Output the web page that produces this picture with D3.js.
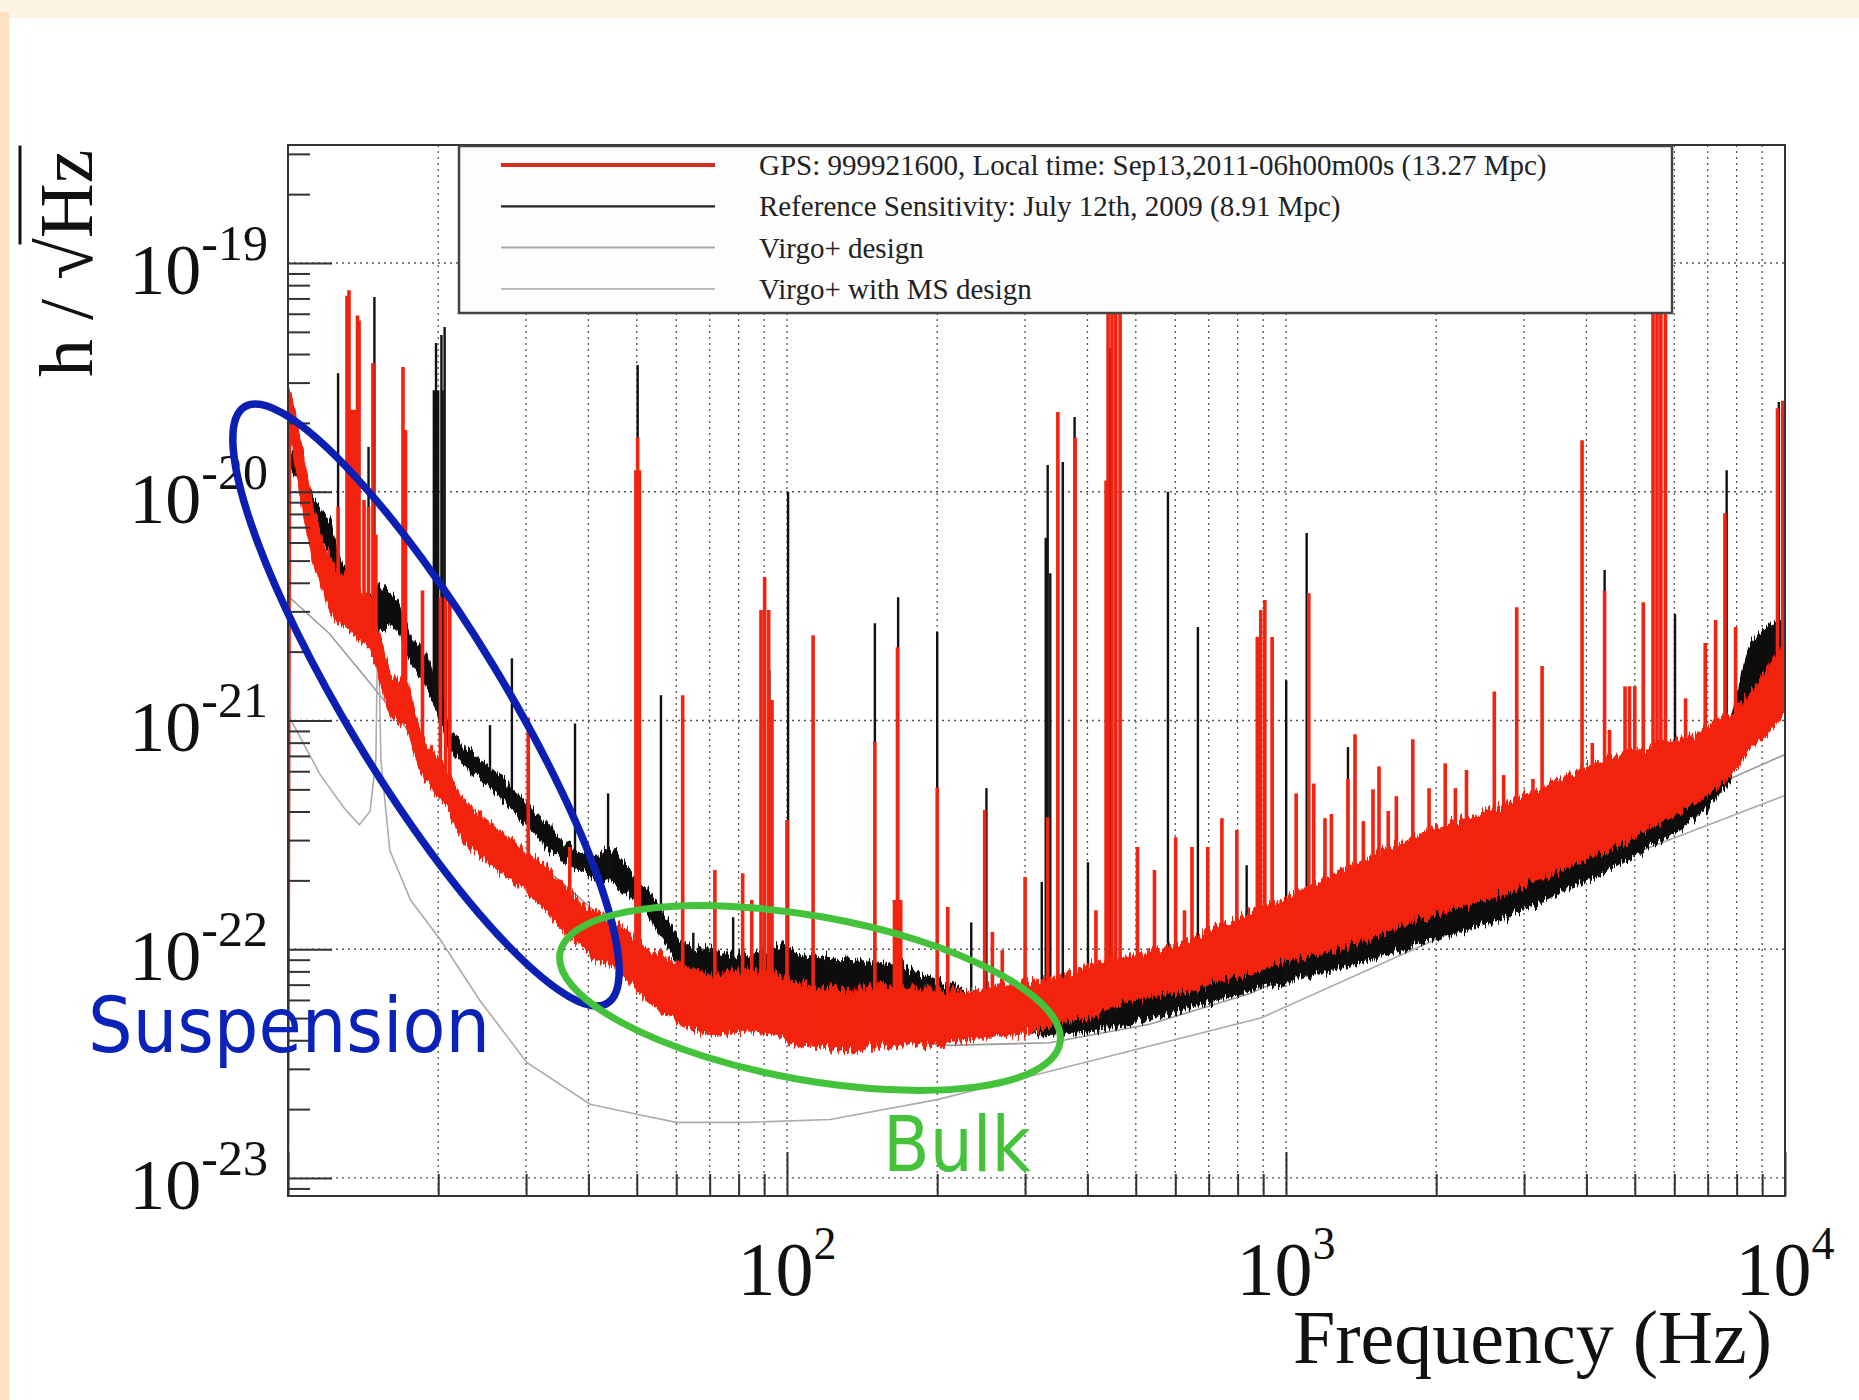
<!DOCTYPE html>
<html>
<head>
<meta charset="utf-8">
<script src="https://cdn.jsdelivr.net/npm/d3@7"></script>
<style>
  body { margin: 0; background: #fff; }
  svg { display: block; }
</style>
</head>
<body>
<svg id="chart" width="1859" height="1400"></svg>
<script>
// ---- data (frequency in Hz, strain in 1/sqrt(Hz)) ----

// Virgo+ design (upper grey curve)
const virgoFreq = [10, 12.1, 14.6, 18.4, 22.8, 28.2, 35, 42.2, 53, 67, 88, 134, 211, 336, 533, 847, 1690, 3380, 5360, 10000]
const virgoH = [3.5e-21, 2.4e-21, 1.46e-21, 7.8e-22, 4.3e-22, 2.9e-22, 2.0e-22, 1.4e-22, 9.0e-23, 6.6e-23, 5.2e-23, 4.2e-23, 3.8e-23, 3.9e-23, 4.7e-23, 6.4e-23, 1.26e-22, 2.45e-22, 3.9e-22, 7.1e-22]

// Virgo+ with MS design (lower grey curve)
const virgoMsFreq = [10, 11.6, 13.0, 13.9, 14.6, 15.0, 15.15, 15.35, 16.0, 17.6, 20.2, 24.2, 30.1, 40.3, 50, 60, 83, 122, 200, 352, 890, 1880, 4256, 10000]
const virgoMsH = [1.06e-21, 5.8e-22, 4.1e-22, 3.5e-22, 4.0e-22, 6.7e-22, 3.4e-21, 6.7e-22, 2.7e-22, 1.64e-22, 1.1e-22, 6.0e-23, 3.2e-23, 2.1e-23, 1.9e-23, 1.75e-23, 1.75e-23, 1.8e-23, 2.2e-23, 3.0e-23, 5.0e-23, 1.04e-22, 2.3e-22, 4.7e-22]

// Reference sensitivity July 2009 (black): noise band floor / top
const refFreq = [10.2, 10.6, 11.2, 11.75, 12.1, 12.7, 13.3, 14.1, 15.3, 16.5, 17.5, 18.8, 19.9, 21.1, 22.4, 24.2, 26.2, 28.2, 30.6, 33.0, 35.5, 38.5, 41.5, 44.1, 48.4, 52.3, 57.5, 61.1, 66.1, 71.2, 83.3, 96.9, 106, 134, 169, 207, 267, 325, 424, 556, 847, 1000, 1343, 1935, 2685, 4400, 6130, 6755, 7757, 8508, 9332, 10000]
const refLow = [1.24e-20, 1.07e-20, 7.9e-21, 6.46e-21, 5.56e-21, 4.1e-21, 3.36e-21, 2.61e-21, 2.49e-21, 2.61e-21, 1.84e-21, 1.5e-21, 1.11e-21, 7.6e-22, 6.58e-22, 5.6e-22, 4.86e-22, 4.06e-22, 3.39e-22, 2.85e-22, 2.45e-22, 2.22e-22, 2.05e-22, 2.05e-22, 1.72e-22, 1.45e-22, 1.04e-22, 8.5e-23, 7.95e-23, 7.7e-23, 7.5e-23, 7.7e-23, 6.62e-23, 6.3e-23, 6.3e-23, 5.7e-23, 4.9e-23, 4.21e-23, 4.43e-23, 5.15e-23, 6.62e-23, 7.2e-23, 8.5e-23, 1.1e-22, 1.34e-22, 2.22e-22, 3.32e-22, 3.86e-22, 5.49e-22, 1.23e-21, 1.5e-21, 1.5e-21]
const refHigh = [1.45e-20, 1.24e-20, 9.4e-21, 7.9e-21, 7.5e-21, 5.0e-21, 4.1e-21, 3.36e-21, 3.9e-21, 3.36e-21, 2.36e-21, 1.93e-21, 1.5e-21, 9.1e-22, 7.8e-22, 6.71e-22, 5.77e-22, 4.96e-22, 4.14e-22, 3.49e-22, 2.94e-22, 2.66e-22, 2.5e-22, 2.75e-22, 2.22e-22, 1.85e-22, 1.34e-22, 1.06e-22, 9.9e-23, 9.7e-23, 9.4e-23, 1.04e-22, 9.4e-23, 8.95e-23, 8.5e-23, 6.96e-23, 6.0e-23, 5.42e-23, 6.0e-23, 6.96e-23, 9.4e-23, 1.04e-22, 1.27e-22, 1.56e-22, 1.91e-22, 3.0e-22, 4.49e-22, 5.49e-22, 1.0e-21, 2.14e-21, 2.61e-21, 2.75e-21]

// Reference sensitivity: spectral lines
const refLineFreq = [12.6, 14.5, 14.9, 19.6, 19.8, 20.0, 20.3, 20.4, 20.6, 25.4, 28.1, 37.6, 43.8, 50.2, 55.9, 64.9, 78, 92.2, 100.5, 150, 167, 200, 234, 251, 324, 330, 333, 337, 357, 377, 401, 444, 580, 666, 834, 1001, 1100, 1331, 4350, 6020, 7640, 9720, 9930]
const refLinePeak = [3.3e-20, 1.57e-20, 7.1e-20, 2.78e-20, 4.47e-20, 2.78e-20, 4.84e-20, 2.78e-20, 5.25e-20, 9.55e-22, 1.87e-21, 9.7e-22, 4.8e-22, 3.58e-20, 1.29e-21, 1.18e-22, 1.38e-22, 1.66e-21, 1.0e-20, 2.66e-21, 3.46e-21, 2.44e-21, 1.31e-22, 5.06e-22, 1.97e-22, 6.3e-21, 1.31e-20, 4.4e-21, 1.35e-20, 2.12e-20, 2.4e-22, 4.25e-20, 1.0e-20, 2.56e-21, 2.33e-22, 1.5e-21, 6.6e-21, 7.65e-22, 4.55e-21, 2.92e-21, 1.24e-20, 2.47e-20, 6.15e-21]

// GPS 999921600 (red): noise band floor / top
const gpsFreq = [10.0, 10.1, 10.6, 11.2, 11.75, 12.4, 13.0, 14.06, 14.6, 15.1, 16.0, 17.3, 18.4, 19.9, 20.8, 22.4, 24.2, 26.2, 28.2, 30.6, 33.0, 35.5, 38.5, 41.5, 44.9, 48.4, 52.3, 61.1, 71.2, 83.3, 96.9, 106, 134, 163, 193, 222, 267, 302, 352, 410, 478, 556, 648, 757, 884, 1000, 1340, 1935, 2685, 4400, 6755, 7757, 8508, 9332, 10000]
const gpsLow = [8.34e-24, 1.86e-20, 9.7e-21, 5.0e-21, 3.7e-21, 2.75e-21, 2.6e-21, 2.25e-21, 2.03e-21, 1.71e-21, 1.05e-21, 9.55e-22, 6.07e-22, 4.72e-22, 4.27e-22, 3.0e-22, 2.58e-22, 2.26e-22, 2.0e-22, 1.72e-22, 1.48e-22, 1.21e-22, 1.04e-22, 8.95e-23, 8.5e-23, 7.3e-23, 6.0e-23, 4.66e-23, 4.21e-23, 4.43e-23, 4.21e-23, 3.81e-23, 3.62e-23, 3.81e-23, 3.81e-23, 4.0e-23, 4.21e-23, 4.3e-23, 4.75e-23, 5.05e-23, 6.0e-23, 6.3e-23, 6.62e-23, 7.5e-23, 8.1e-23, 8.95e-23, 1.04e-22, 1.41e-22, 1.72e-22, 2.71e-22, 4.49e-22, 5.77e-22, 7.4e-22, 9.1e-22, 1.11e-21]
const gpsHigh = [2.7e-20, 2.7e-20, 1.6e-20, 8.5e-21, 6.0e-21, 4.6e-21, 4.3e-21, 3.6e-21, 3.5e-21, 2.5e-21, 1.6e-21, 1.45e-21, 8.8e-22, 6.8e-22, 6.1e-22, 4.5e-22, 3.85e-22, 3.3e-22, 2.95e-22, 2.55e-22, 2.3e-22, 1.9e-22, 1.6e-22, 1.45e-22, 1.3e-22, 1.17e-22, 1.0e-22, 8.5e-23, 7.7e-23, 8.1e-23, 7.7e-23, 6.96e-23, 6.62e-23, 6.96e-23, 6.62e-23, 6.43e-23, 6.96e-23, 7.1e-23, 7.5e-23, 8.7e-23, 9.2e-23, 9.9e-23, 1.1e-22, 1.3e-22, 1.5e-22, 1.65e-22, 2.3e-22, 3.3e-22, 4.2e-22, 6.8e-22, 8.8e-22, 1.06e-21, 1.29e-21, 1.75e-21, 2.25e-21]

// GPS 999921600: spectral lines
const gpsLineFreq = [12.6, 13.13, 13.25, 13.38, 13.5, 13.62, 13.78, 13.88, 14.2, 14.5, 14.8, 15.0, 17.0, 17.2, 18.6, 20.2, 20.7, 21.1, 30.3, 36.7, 49.8, 50.2, 50.6, 61.8, 71.7, 81.5, 85, 88.7, 90.2, 91.9, 93.3, 100, 112.8, 150, 164.2, 166.5, 169, 200, 210, 249, 258, 270, 300, 333, 349, 378, 416, 436, 440, 448, 456, 465, 504, 545, 601, 626, 648, 697, 744, 797, 876, 890, 907, 938, 1048, 1111, 1137, 1197, 1233, 1331, 1375, 1429, 1494, 1536, 1603, 1664, 1795, 1935, 2085, 2185, 2300, 2615, 2730, 2900, 3125, 3260, 3620, 3920, 4110, 4350, 4450, 4780, 4880, 5000, 5200, 5440, 5540, 5640, 5760, 6320, 6920, 7260, 7580, 7960, 9660, 9900]
const gpsLinePeak = [8.6e-21, 7.2e-20, 7.6e-20, 2.28e-20, 2.28e-20, 2.28e-20, 5.9e-20, 5.6e-20, 9.2e-21, 8.6e-21, 3.65e-20, 6.5e-21, 3.51e-20, 1.86e-20, 3.7e-21, 3.46e-21, 3.46e-21, 3.46e-21, 1.03e-21, 2.8e-22, 1.24e-20, 1.73e-20, 1.24e-20, 1.29e-21, 2.22e-22, 2.15e-22, 1.64e-22, 3.04e-21, 4.24e-21, 3.04e-21, 1.23e-21, 3.67e-22, 2.36e-21, 8.05e-22, 1.64e-22, 2.09e-21, 1.64e-22, 5.1e-22, 1.53e-22, 4.06e-22, 1.19e-22, 9.9e-23, 2.07e-22, 3.78e-22, 2.23e-20, 1.72e-20, 1.48e-22, 1.12e-20, 1.2e-19, 1.2e-19, 1.2e-19, 1.0e-19, 2.8e-22, 2.22e-22, 3.09e-22, 1.48e-22, 2.8e-22, 2.8e-22, 3.74e-22, 3.32e-22, 2.32e-21, 3.04e-21, 3.36e-21, 2.32e-21, 4.8e-22, 3.6e-21, 5.3e-22, 3.74e-22, 3.9e-22, 5.55e-22, 8.7e-22, 3.63e-22, 5.0e-22, 6.3e-22, 4.02e-22, 4.67e-22, 8.28e-22, 5.06e-22, 6.5e-22, 5.06e-22, 6.07e-22, 1.34e-21, 5.77e-22, 3.13e-21, 5.55e-22, 1.73e-21, 5.66e-22, 1.68e-20, 7.97e-22, 3.68e-21, 9.1e-22, 1.41e-21, 1.41e-21, 1.41e-21, 3.29e-21, 1.2e-19, 1.2e-19, 1.2e-19, 1.2e-19, 1.25e-21, 2.18e-21, 2.75e-21, 8.05e-21, 2.56e-21, 2.32e-20, 2.5e-20]

// axes
const xLabelTicks = [100, 1000, 10000]
const xLabelExp = ["2", "3", "4"]
const yLabelTicks = [1e-19, 1e-20, 1e-21, 1e-22, 1e-23]
const yLabelExp = ["-19", "-20", "-21", "-22", "-23"]

const legendLabels = [
    "GPS: 999921600, Local time: Sep13,2011-06h00m00s (13.27 Mpc)",
    "Reference Sensitivity: July 12th, 2009 (8.91 Mpc)",
    "Virgo+ design",
    "Virgo+ with MS design"
]

// ---- drawing ----
const serif = "'Liberation Serif', 'Times New Roman', serif"
const red = "#f2230f"
const black = "#111"

const svg = d3.select("#chart")
const W = 1859, H = 1400
const plot = {left: 288, right: 1785, top: 145, bottom: 1196}

// page background with the peach border of the slide
svg.append("rect").attr("width", W).attr("height", H).attr("fill", "#fff")
svg.append("rect").attr("width", W).attr("height", 18).attr("fill", "#fdf3e2")
svg.append("rect").attr("y", 12).attr("width", 9).attr("height", H).attr("fill", "#fde0bf")

const x = d3.scaleLog().domain([10, 10000]).range([plot.left, plot.right])
const y = d3.scaleLog().domain([8.34e-24, 3.28e-19]).range([plot.bottom, plot.top])

const defs = svg.append("defs")
defs.append("clipPath").attr("id", "clip")
    .append("rect")
    .attr("x", plot.left).attr("y", plot.top)
    .attr("width", plot.right - plot.left).attr("height", plot.bottom - plot.top)

// ragged edges for the noise bands (vertical jitter only)
const rough = defs.append("filter").attr("id", "rough")
    .attr("filterUnits", "userSpaceOnUse")
    .attr("x", plot.left - 20).attr("y", plot.top - 20)
    .attr("width", plot.right - plot.left + 40).attr("height", plot.bottom - plot.top + 40)
rough.append("feTurbulence").attr("type", "fractalNoise")
    .attr("baseFrequency", "0.45 0.03").attr("numOctaves", 2).attr("seed", 3).attr("result", "noise")
rough.append("feColorMatrix").attr("in", "noise").attr("type", "matrix")
    .attr("values", "0 0 0 0 0.5  0 1 0 0 0  0 0 1 0 0  0 0 0 0 1").attr("result", "shift")
rough.append("feDisplacementMap").attr("in", "SourceGraphic").attr("in2", "shift")
    .attr("scale", 20).attr("xChannelSelector", "R").attr("yChannelSelector", "G")

// dotted grid
const grid = svg.append("g").attr("stroke", "#555").attr("stroke-width", 1.3).attr("stroke-dasharray", "2,4")
grid.selectAll(".vg").data(x.ticks().filter(t => t > 10 && t < 10000)).enter()
    .append("line")
    .attr("x1", d => x(d)).attr("x2", d => x(d))
    .attr("y1", plot.top).attr("y2", plot.bottom)
grid.selectAll(".hg").data(yLabelTicks).enter()
    .append("line")
    .attr("x1", plot.left).attr("x2", plot.right)
    .attr("y1", d => y(d)).attr("y2", d => y(d))

const data = svg.append("g").attr("clip-path", "url(#clip)")

// log-log interpolation of a band floor, used as the foot of each line
function floorAt(freqs, lows, f) {
    let i = d3.bisectRight(freqs, f)
    i = Math.max(1, Math.min(freqs.length - 1, i))
    const a = Math.log10(freqs[i - 1]), b = Math.log10(freqs[i])
    const t = Math.max(0, Math.min(1, (Math.log10(f) - a) / (b - a)))
    return Math.pow(10, Math.log10(lows[i - 1]) * (1 - t) + Math.log10(lows[i]) * t)
}

// grey design curves
const line = d3.line().x(d => x(d[0])).y(d => y(d[1]))
data.append("path").datum(d3.zip(virgoFreq, virgoH))
    .attr("d", line).attr("fill", "none").attr("stroke", "#9a9a9a").attr("stroke-width", 1.6)
data.append("path").datum(d3.zip(virgoMsFreq, virgoMsH))
    .attr("d", line).attr("fill", "none").attr("stroke", "#ababab").attr("stroke-width", 1.6)

const band = d3.area().x(d => x(d[0])).y0(d => y(d[1])).y1(d => y(d[2]))

function drawSpectrum(freqs, lows, highs, lineFreq, linePeak, color, width) {
    const g = data.append("g")
    g.append("path").datum(d3.zip(freqs, lows, highs))
        .attr("d", band).attr("fill", color)
        .attr("stroke", color).attr("stroke-width", 2.5).attr("stroke-linejoin", "bevel")
        .attr("filter", "url(#rough)")
    g.append("g").selectAll("line").data(d3.zip(lineFreq, linePeak)).enter()
        .append("line")
        .attr("x1", d => x(d[0])).attr("x2", d => x(d[0]))
        .attr("y1", d => y(floorAt(freqs, lows, d[0])))
        .attr("y2", d => y(d[1]))
        .attr("stroke", color).attr("stroke-width", width)
}

drawSpectrum(refFreq, refLow, refHigh, refLineFreq, refLinePeak, black, 2.4)
drawSpectrum(gpsFreq, gpsLow, gpsHigh, gpsLineFreq, gpsLinePeak, red, 3.6)

// frame and ticks
svg.append("rect")
    .attr("x", plot.left).attr("y", plot.top)
    .attr("width", plot.right - plot.left).attr("height", plot.bottom - plot.top)
    .attr("fill", "none").attr("stroke", "#333").attr("stroke-width", 2)

const majorX = x.ticks().filter(t => [10, 100, 1000, 10000].includes(t))
const minorX = x.ticks().filter(t => !majorX.includes(t))
const majorY = y.ticks().filter(t => yLabelTicks.some(v => Math.abs(v - t) / v < 1e-6))
const minorY = y.ticks().filter(t => !majorY.includes(t))

function tickAxis(axis, values, size, transform) {
    const g = svg.append("g").attr("transform", transform)
        .call(axis.tickValues(values).tickSize(-size).tickFormat(""))
    g.select(".domain").remove()
    g.selectAll("line").attr("stroke", "#333").attr("stroke-width", 2)
}
tickAxis(d3.axisBottom(x), majorX, 44, `translate(0,${plot.bottom})`)
tickAxis(d3.axisBottom(x), minorX, 22, `translate(0,${plot.bottom})`)
tickAxis(d3.axisLeft(y), majorY, 44, `translate(${plot.left},0)`)
tickAxis(d3.axisLeft(y), minorY, 22, `translate(${plot.left},0)`)

// tick labels with superscripts
yLabelTicks.forEach(function(v, i) {
    const t = svg.append("text")
        .attr("x", 268).attr("y", y(v) + 31)
        .attr("text-anchor", "end")
        .attr("font-family", serif).attr("font-size", 72).attr("fill", "#111")
    t.append("tspan").text("10")
    t.append("tspan").attr("dy", -34).attr("font-size", 50).text(yLabelExp[i])
})
xLabelTicks.forEach(function(v, i) {
    const t = svg.append("text")
        .attr("x", x(v)).attr("y", 1295)
        .attr("text-anchor", "middle")
        .attr("font-family", serif).attr("font-size", 76).attr("fill", "#111")
    t.append("tspan").text("10")
    t.append("tspan").attr("dy", -36).attr("font-size", 46).text(xLabelExp[i])
})

svg.append("text")
    .attr("x", 1772).attr("y", 1363)
    .attr("text-anchor", "end")
    .attr("font-family", serif).attr("font-size", 76).attr("fill", "#111")
    .text("Frequency (Hz)")

// y title: h / sqrt(Hz)
const yTitle = svg.append("g").attr("transform", "translate(92,377) rotate(-90)")
const yt = yTitle.append("text")
    .attr("font-family", serif).attr("font-size", 76).attr("fill", "#111")
    .text("h / \u221AHz")
const ytNode = yt.node()
const nChars = ytNode.getNumberOfChars()
const rootBox = ytNode.getExtentOfChar(nChars - 3)
const endBox = ytNode.getExtentOfChar(nChars - 1)
yTitle.append("line")
    .attr("x1", rootBox.x + rootBox.width * 0.85).attr("x2", endBox.x + endBox.width + 4)
    .attr("y1", -72).attr("y2", -72)
    .attr("stroke", "#111").attr("stroke-width", 3)

// legend
const legend = svg.append("g")
legend.append("rect")
    .attr("x", 459).attr("y", 146).attr("width", 1213).attr("height", 167)
    .attr("fill", "#fdfdfd").attr("stroke", "#444").attr("stroke-width", 2.5)
const legendStyles = [
    {color: "#d3301e", width: 4},
    {color: "#222", width: 2.2},
    {color: "#aaa", width: 2},
    {color: "#b5b5b5", width: 1.6}
]
legendLabels.forEach(function(label, i) {
    const cy = 165 + i * 41.3
    legend.append("line")
        .attr("x1", 501).attr("x2", 715).attr("y1", cy).attr("y2", cy)
        .attr("stroke", legendStyles[i].color).attr("stroke-width", legendStyles[i].width)
    legend.append("text")
        .attr("x", 759).attr("y", cy).attr("dy", "0.35em")
        .attr("font-family", serif).attr("font-size", 29).attr("fill", "#222")
        .text(label)
})

// hand-drawn annotations
svg.append("ellipse")
    .attr("cx", 0).attr("cy", 0).attr("rx", 349).attr("ry", 78)
    .attr("transform", "translate(426,705) rotate(58.7)")
    .attr("fill", "none").attr("stroke", "#0b20b3").attr("stroke-width", 7.5)
svg.append("ellipse")
    .attr("cx", 0).attr("cy", 0).attr("rx", 254).attr("ry", 82)
    .attr("transform", "translate(810,998) rotate(10.2)")
    .attr("fill", "none").attr("stroke", "#45c23c").attr("stroke-width", 7)

const hand = "'Comic Sans MS', 'DejaVu Sans', sans-serif"
svg.append("text")
    .attr("x", 88).attr("y", 1052)
    .attr("font-family", hand).attr("font-size", 76).attr("fill", "#0b22b8")
    .attr("textLength", 402).attr("lengthAdjust", "spacingAndGlyphs")
    .text("Suspension")
svg.append("text")
    .attr("x", 883).attr("y", 1171)
    .attr("font-family", hand).attr("font-size", 76).attr("fill", "#45c23c")
    .attr("textLength", 148).attr("lengthAdjust", "spacingAndGlyphs")
    .text("Bulk")
</script>
</body>
</html>
